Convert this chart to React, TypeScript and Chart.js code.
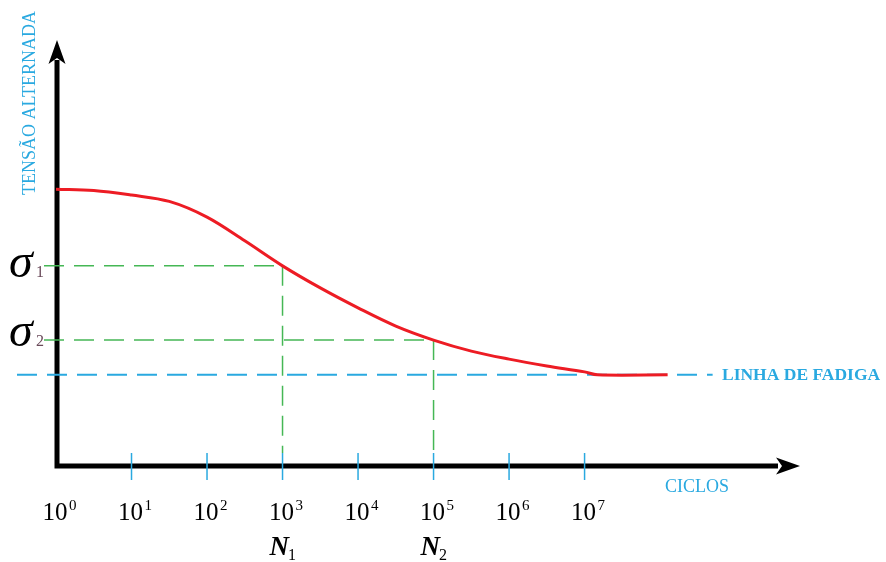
import React, { useEffect, useRef } from 'react';
import { Chart, registerables } from 'chart.js';
Chart.register(...registerables);

// S-N curve: log10(cycles) vs alternating stress (arbitrary units)
const logCycles = [0, 0.5, 1, 1.5, 2, 2.5, 3, 3.5, 4, 4.5, 5, 5.5, 6, 6.5, 7, 7.17, 8.1];
const stress = [65.3, 65.0, 63.9, 62.4, 58.7, 53.1, 47.2, 42.0, 37.3, 33.0, 29.7, 27.1, 25.2, 23.6, 22.2, 21.5, 21.5];
const tickExponents = [0, 1, 2, 3, 4, 5, 6, 7];
const sigmaStress = [47.2, 29.7];
const sigmaLogCycles = [3, 5];
const sigmaSubs = ['1', '2'];
const fatigueLimit = 21.5;
const yTitle = 'TENSÃO ALTERNADA';
const xTitle = 'CICLOS';
const fatigueLabel = 'LINHA DE FADIGA';

const BLUE = '#2aa9e0';
const GREEN = '#45b755';
const RED = '#ed1c24';
const SERIF = '"Liberation Serif", "DejaVu Serif", serif';

const overlay = {
  id: 'snOverlay',
  beforeDatasetsDraw(chart: any) {
    const { ctx, scales } = chart;
    const x = scales.x, y = scales.y;
    const x0 = x.getPixelForValue(0);
    const y0 = y.getPixelForValue(0);
    const ax = x0 + 1;
    ctx.save();
    // black axes
    ctx.strokeStyle = '#000';
    ctx.fillStyle = '#000';
    ctx.lineWidth = 5;
    ctx.beginPath();
    ctx.moveTo(ax, y0 + 2.5);
    ctx.lineTo(ax, y.top + 18);
    ctx.moveTo(ax - 2.5, y0);
    ctx.lineTo(x.right - 18, y0);
    ctx.stroke();
    // y arrow
    const tipY = y.top - 2;
    ctx.beginPath();
    ctx.moveTo(ax, tipY);
    ctx.lineTo(ax + 8.5, tipY + 24);
    ctx.lineTo(ax, tipY + 18);
    ctx.lineTo(ax - 8.5, tipY + 24);
    ctx.closePath();
    ctx.fill();
    // x arrow
    const tipX = x.right + 4;
    ctx.beginPath();
    ctx.moveTo(tipX, y0);
    ctx.lineTo(tipX - 24, y0 - 8.5);
    ctx.lineTo(tipX - 18, y0);
    ctx.lineTo(tipX - 24, y0 + 8.5);
    ctx.closePath();
    ctx.fill();

    // fatigue limit dashed line
    const fy = y.getPixelForValue(fatigueLimit);
    ctx.strokeStyle = BLUE;
    ctx.lineWidth = 2;
    ctx.setLineDash([20, 10]);
    ctx.beginPath();
    ctx.moveTo(17, fy);
    ctx.lineTo(x.getPixelForValue(8.1) + 45, fy);
    ctx.stroke();

    // green dashed reference lines
    ctx.strokeStyle = GREEN;
    ctx.lineWidth = 1.5;
    sigmaStress.forEach((s, i) => {
      const py = y.getPixelForValue(s);
      const px = x.getPixelForValue(sigmaLogCycles[i]);
      ctx.beginPath();
      ctx.moveTo(44, py);
      ctx.lineTo(px, py);
      ctx.moveTo(px, py);
      ctx.lineTo(px, y0 - 13);
      ctx.stroke();
    });
    ctx.setLineDash([]);

    // blue tick marks
    ctx.strokeStyle = BLUE;
    ctx.lineWidth = 1.5;
    tickExponents.forEach((e) => {
      if (e === 0) return;
      const px = x.getPixelForValue(e);
      ctx.beginPath();
      ctx.moveTo(px, y0 - 13);
      ctx.lineTo(px, y0 + 14);
      ctx.stroke();
    });
    ctx.restore();
  },
  afterDatasetsDraw(chart: any) {
    const { ctx, scales } = chart;
    const x = scales.x, y = scales.y;
    const y0 = y.getPixelForValue(0);
    ctx.save();
    ctx.textBaseline = 'alphabetic';

    // tick labels 10^n
    tickExponents.forEach((e) => {
      const px = x.getPixelForValue(e);
      ctx.fillStyle = '#000';
      ctx.font = `25px ${SERIF}`;
      ctx.textAlign = 'right';
      ctx.fillText('10', px + 11.5, y0 + 54);
      ctx.font = `15px ${SERIF}`;
      ctx.textAlign = 'left';
      ctx.fillText(String(e), px + 13, y0 + 44);
    });

    // N labels
    sigmaLogCycles.forEach((c, i) => {
      const px = x.getPixelForValue(c);
      ctx.fillStyle = '#000';
      ctx.textAlign = 'left';
      ctx.font = `italic bold 27px ${SERIF}`;
      ctx.fillText('N', px - 13, y0 + 89);
      const w = ctx.measureText('N').width;
      ctx.font = `16px ${SERIF}`;
      ctx.fillText(sigmaSubs[i], px - 13 + w - 1, y0 + 94);
    });

    // sigma labels
    sigmaStress.forEach((s, i) => {
      const py = y.getPixelForValue(s);
      const dy = i === 0 ? 11 : 6;
      ctx.fillStyle = '#000';
      ctx.textAlign = 'left';
      ctx.font = `italic 48px ${SERIF}`;
      ctx.fillText('σ', 9, py + dy);
      ctx.fillStyle = '#6a4a5a';
      ctx.font = `16px ${SERIF}`;
      ctx.fillText(sigmaSubs[i], 36, py + dy);
    });

    // titles
    ctx.fillStyle = BLUE;
    ctx.font = `18px ${SERIF}`;
    ctx.save();
    ctx.translate(35, 103);
    ctx.rotate(-Math.PI / 2);
    ctx.textAlign = 'center';
    ctx.fillText(yTitle, 0, 0);
    ctx.restore();

    ctx.textAlign = 'left';
    ctx.font = `18px ${SERIF}`;
    ctx.fillText(xTitle, x.right - 131, y0 + 26);

    ctx.font = `bold 17.5px ${SERIF}`;
    const fy = y.getPixelForValue(fatigueLimit);
    ctx.fillText(fatigueLabel, 722, fy + 5);
    ctx.restore();
  },
};

export default function App() {
  const ref = useRef<HTMLCanvasElement | null>(null);
  useEffect(() => {
    if (!ref.current) return;
    const chart = new Chart(ref.current, {
      type: 'line',
      data: {
        datasets: [
          {
            data: logCycles.map((c, i) => ({ x: c, y: stress[i] })),
            borderColor: RED,
            borderWidth: 3,
            pointRadius: 0,
            tension: 0.35,
            fill: false,
            clip: 10,
          } as any,
        ],
      },
      options: {
        animation: false,
        responsive: false,
        events: [],
        plugins: { legend: { display: false }, tooltip: { enabled: false } },
        layout: { padding: { left: 56, right: 90, top: 42, bottom: 96 } },
        scales: {
          x: { type: 'linear', min: 0, max: 9.8, display: false },
          y: { type: 'linear', min: 0, max: 100, display: false },
        },
      },
      plugins: [overlay],
    });
    return () => chart.destroy();
  }, []);
  return (
    <div style={{ position: 'absolute', left: 0, top: 0, width: 886, height: 562, background: '#fff' }}>
      <canvas ref={ref} width={886} height={562} />
    </div>
  );
}
